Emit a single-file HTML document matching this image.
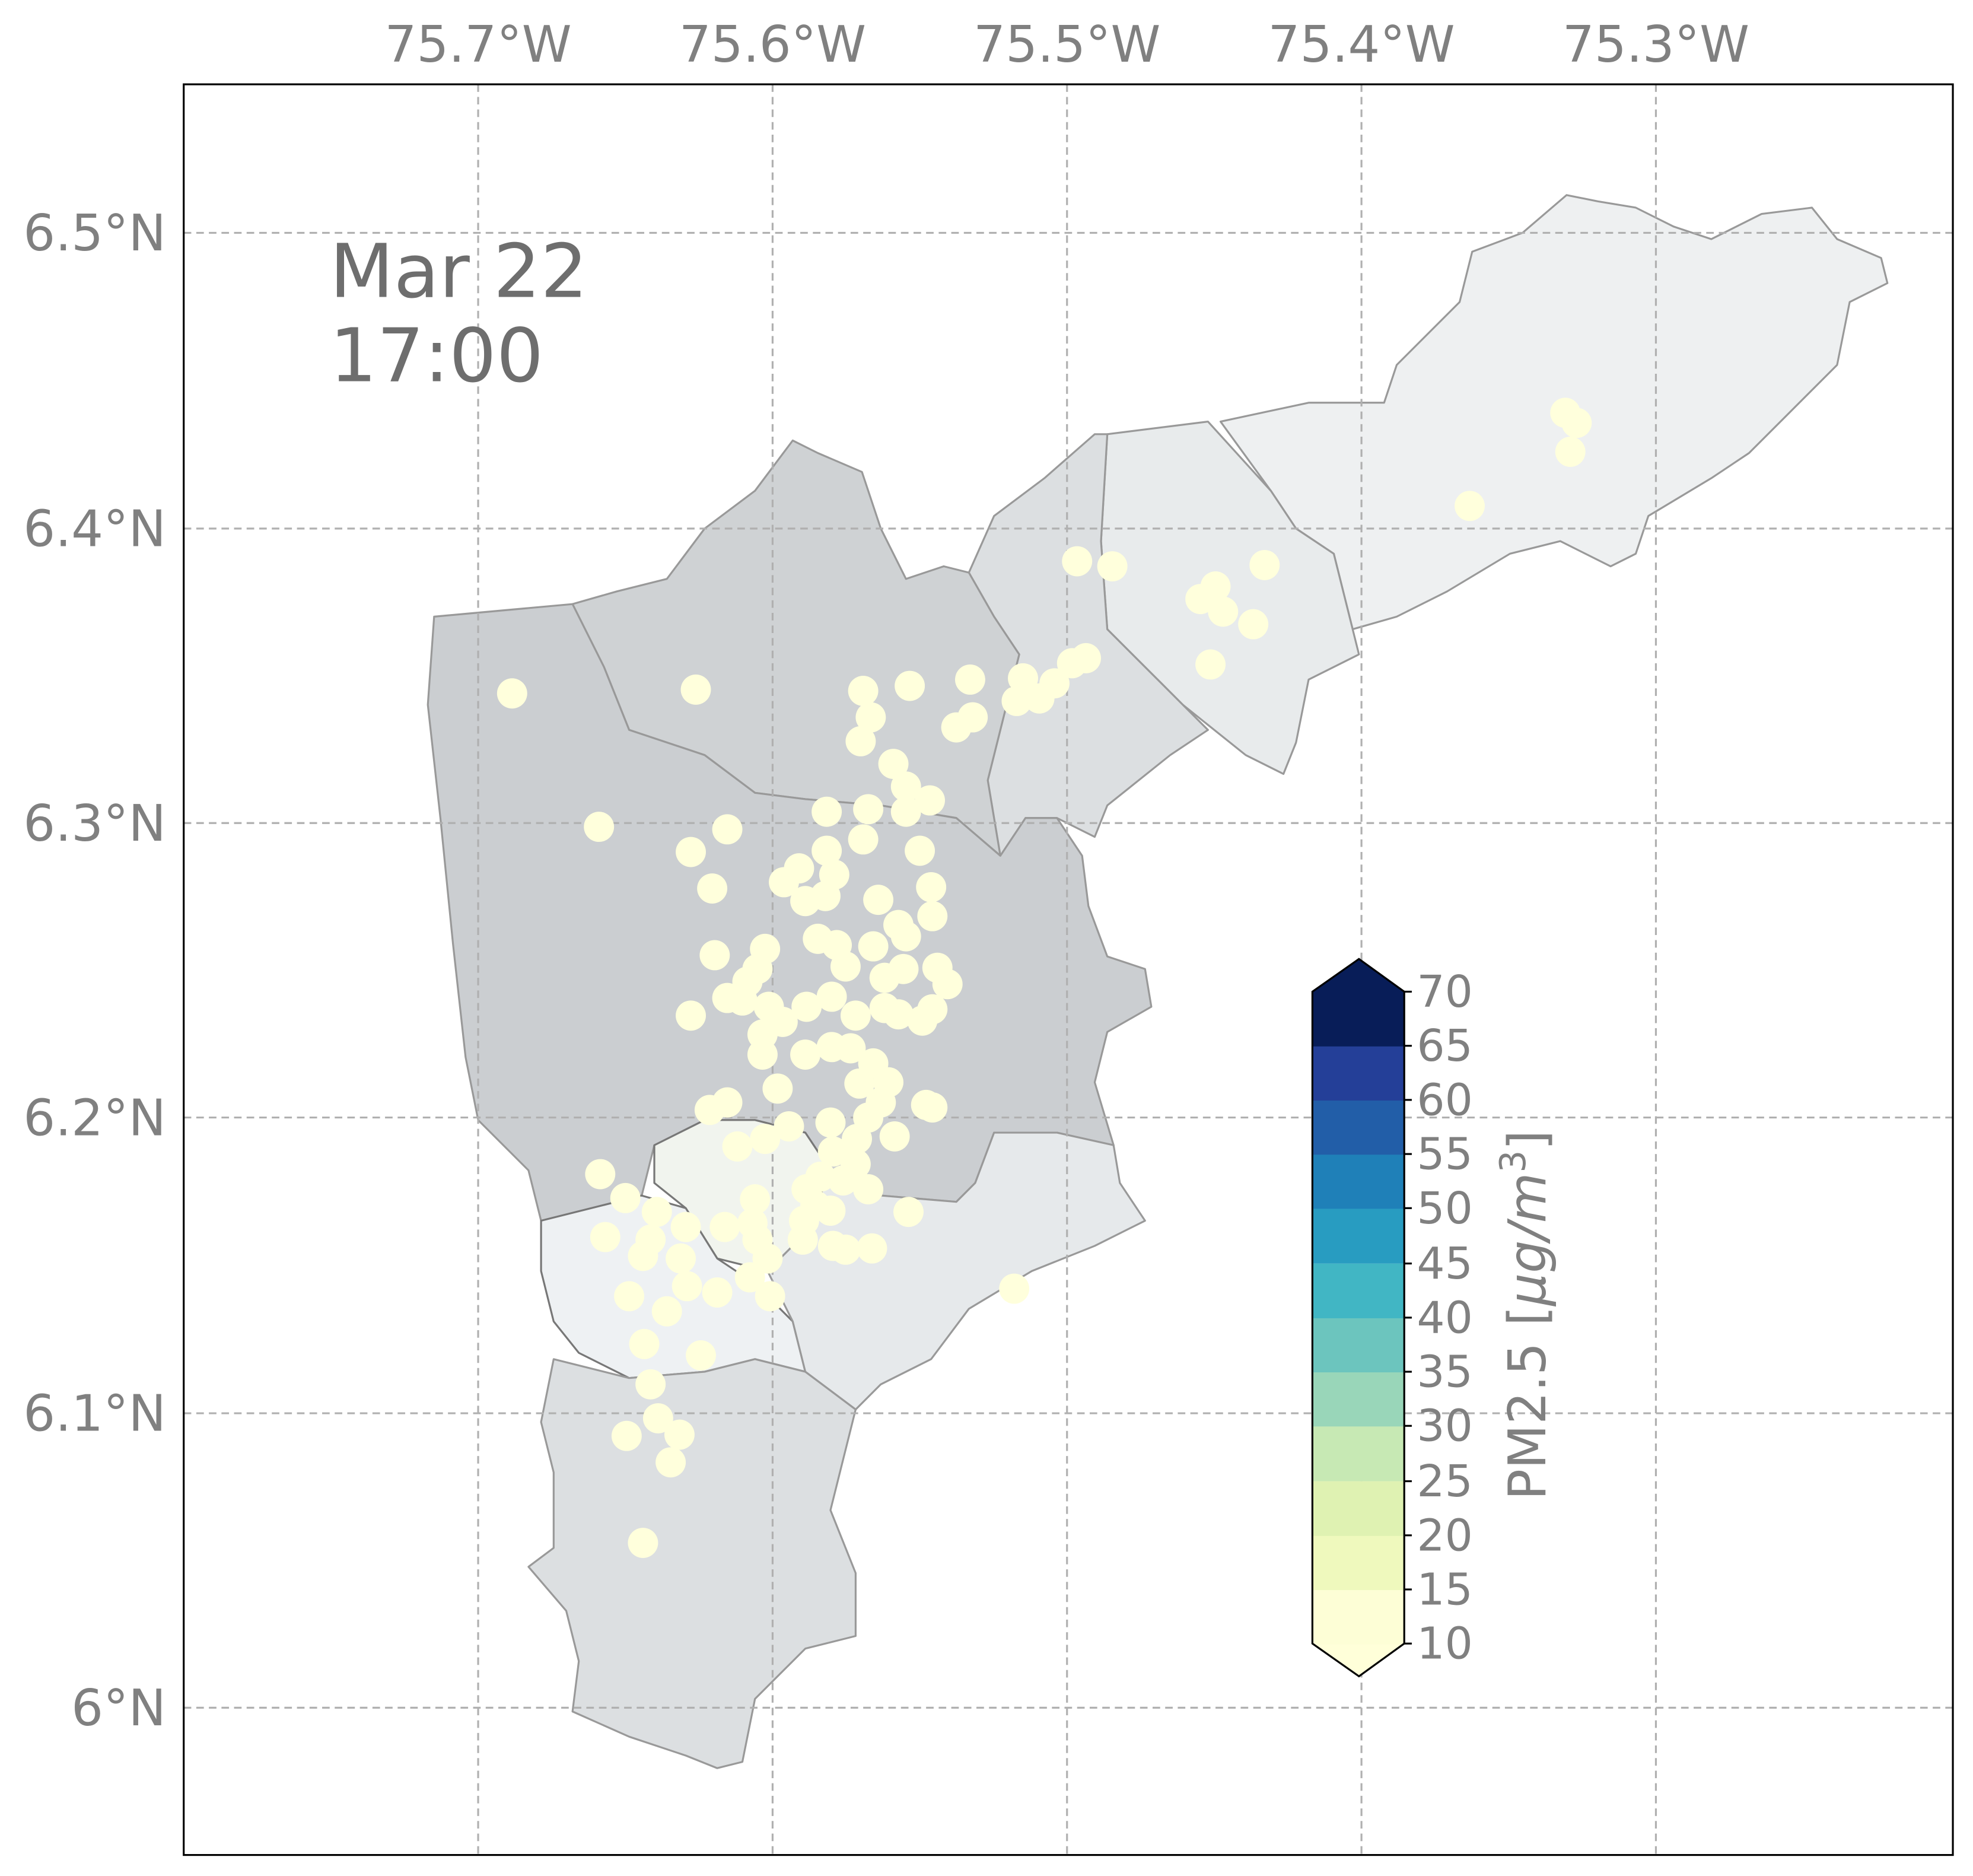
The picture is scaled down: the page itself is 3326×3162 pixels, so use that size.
<!DOCTYPE html>
<html><head><meta charset="utf-8"><style>html,body{margin:0;padding:0;background:#fff}svg{display:block}</style></head>
<body>
<svg width="3326" height="3162" viewBox="0 0 1568 1490.7" xmlns="http://www.w3.org/2000/svg" font-family="DejaVu Sans, Liberation Sans, sans-serif">
<rect width="1568" height="1491" fill="#fff"/>
<g stroke-linejoin="round" stroke-width="1.5">
<polygon fill="#eef0f1" stroke="#999" points="970,335 1040,320 1100,320 1110,290 1160,240 1170,200 1210,185 1245,155 1270,160 1300,165 1330,180 1360,190 1400,170 1440,165 1460,190 1495,205 1500,225 1470,240 1460,290 1420,330 1390,360 1360,380 1310,410 1300,440 1280,450 1240,430 1200,440 1150,470 1110,490 1075,500 1060,440 1030,420 1010,390"/>
<polygon fill="#e8ebec" stroke="#999" points="880,345 960,335 1010,390 1030,420 1060,440 1075,500 1080,520 1040,540 1030,590 1020,615 990,600 965,580 940,560 920,540 880,500 875,430"/>
<polygon fill="#dcdfe1" stroke="#999" points="770,455 790,410 830,380 870,345 880,345 875,430 880,500 920,540 960,580 930,600 880,640 870,665 840,650 815,650 795,680 785,620 800,560 810,520 790,490"/>
<polygon fill="#cfd2d4" stroke="#999" points="455,480 490,470 530,460 560,420 600,390 630,350 650,360 685,375 700,420 720,460 750,450 770,455 790,490 810,520 800,560 785,620 795,680 760,650 700,640 640,635 600,630 560,600 500,580 480,530"/>
<polygon fill="#cbced1" stroke="#999" points="345,490 400,485 455,480 480,530 500,580 560,600 600,630 640,635 700,640 760,650 795,680 815,650 840,650 860,680 865,720 880,760 910,770 915,800 880,820 870,860 885,910 840,900 790,900 775,940 760,955 700,950 660,930 640,900 600,890 560,890 520,910 510,950 430,970 420,930 380,890 370,840 360,750 350,650 340,560"/>
<polygon fill="#f1f4ee" stroke="#777" points="520,910 560,890 600,890 640,900 660,930 640,980 610,1010 570,1000 545,960 520,940"/>
<polygon fill="#eef1f3" stroke="#777" points="430,970 510,950 545,960 570,1000 600,1020 630,1050 640,1090 600,1080 560,1090 500,1095 460,1075 440,1050 430,1010"/>
<polygon fill="#e6e9eb" stroke="#999" points="640,980 660,930 700,950 760,955 775,940 790,900 840,900 885,910 890,940 910,970 870,990 820,1010 770,1040 740,1080 700,1100 680,1120 640,1090 630,1050 610,1010"/>
<polygon fill="#dcdfe1" stroke="#999" points="440,1080 500,1095 560,1090 600,1080 640,1090 680,1120 670,1160 660,1200 680,1250 680,1300 640,1310 600,1350 590,1400 570,1405 545,1395 500,1380 455,1360 460,1320 450,1280 420,1245 440,1230 440,1170 430,1130"/>
</g>
<g stroke="#b0b0b0" stroke-width="1.5" stroke-dasharray="6,4">
<line x1="380" y1="67" x2="380" y2="1474"/><line x1="614" y1="67" x2="614" y2="1474"/><line x1="848" y1="67" x2="848" y2="1474"/><line x1="1082" y1="67" x2="1082" y2="1474"/><line x1="1316" y1="67" x2="1316" y2="1474"/>
<line x1="146" y1="185" x2="1552" y2="185"/><line x1="146" y1="420" x2="1552" y2="420"/><line x1="146" y1="654" x2="1552" y2="654"/><line x1="146" y1="888" x2="1552" y2="888"/><line x1="146" y1="1123" x2="1552" y2="1123"/><line x1="146" y1="1357" x2="1552" y2="1357"/>
</g>
<g fill="#ffffdc">
<circle cx="407" cy="551" r="12"/><circle cx="553" cy="548" r="12"/><circle cx="476" cy="657" r="12"/><circle cx="549" cy="677" r="12"/><circle cx="578" cy="659" r="12"/><circle cx="566" cy="706" r="12"/><circle cx="568" cy="759" r="12"/><circle cx="549" cy="807" r="12"/>
<circle cx="686" cy="549" r="12"/><circle cx="723" cy="545" r="12"/><circle cx="692" cy="570" r="12"/><circle cx="684" cy="589" r="12"/><circle cx="771" cy="540" r="12"/><circle cx="773" cy="570" r="12"/><circle cx="760" cy="578" r="12"/><circle cx="808" cy="557" r="12"/><circle cx="813" cy="539" r="12"/><circle cx="826" cy="555" r="12"/><circle cx="838" cy="543" r="12"/><circle cx="852" cy="527" r="12"/><circle cx="863" cy="523" r="12"/><circle cx="856" cy="446" r="12"/><circle cx="884" cy="450" r="12"/>
<circle cx="954" cy="476" r="12"/><circle cx="966" cy="466" r="12"/><circle cx="972" cy="486" r="12"/><circle cx="1005" cy="449" r="12"/><circle cx="996" cy="496" r="12"/><circle cx="962" cy="528" r="12"/><circle cx="1168" cy="402" r="12"/><circle cx="1244" cy="328" r="12"/><circle cx="1253" cy="336" r="12"/><circle cx="1248" cy="359" r="12"/>
<circle cx="710" cy="607" r="12"/><circle cx="720" cy="625" r="12"/><circle cx="739" cy="636" r="12"/><circle cx="720" cy="645" r="12"/><circle cx="690" cy="643" r="12"/><circle cx="657" cy="645" r="12"/><circle cx="686" cy="667" r="12"/><circle cx="731" cy="676" r="12"/><circle cx="657" cy="676" r="12"/><circle cx="663" cy="695" r="12"/><circle cx="635" cy="690" r="12"/><circle cx="623" cy="701" r="12"/><circle cx="640" cy="716" r="12"/><circle cx="656" cy="712" r="12"/><circle cx="698" cy="715" r="12"/><circle cx="740" cy="705" r="12"/><circle cx="741" cy="728" r="12"/><circle cx="714" cy="735" r="12"/><circle cx="720" cy="744" r="12"/><circle cx="694" cy="752" r="12"/><circle cx="650" cy="746" r="12"/><circle cx="665" cy="751" r="12"/><circle cx="672" cy="768" r="12"/><circle cx="608" cy="754" r="12"/><circle cx="602" cy="770" r="12"/><circle cx="718" cy="770" r="12"/><circle cx="703" cy="777" r="12"/><circle cx="745" cy="769" r="12"/><circle cx="753" cy="782" r="12"/><circle cx="741" cy="802" r="12"/><circle cx="733" cy="811" r="12"/><circle cx="714" cy="806" r="12"/><circle cx="703" cy="801" r="12"/><circle cx="680" cy="807" r="12"/><circle cx="661" cy="792" r="12"/><circle cx="641" cy="800" r="12"/><circle cx="611" cy="800" r="12"/><circle cx="590" cy="795" r="12"/><circle cx="578" cy="793" r="12"/><circle cx="594" cy="780" r="12"/><circle cx="622" cy="812" r="12"/><circle cx="606" cy="822" r="12"/><circle cx="606" cy="838" r="12"/><circle cx="640" cy="838" r="12"/><circle cx="661" cy="832" r="12"/><circle cx="676" cy="833" r="12"/><circle cx="694" cy="845" r="12"/><circle cx="706" cy="860" r="12"/><circle cx="683" cy="861" r="12"/><circle cx="618" cy="865" r="12"/><circle cx="578" cy="876" r="12"/><circle cx="564" cy="882" r="12"/><circle cx="741" cy="880" r="12"/><circle cx="736" cy="878" r="12"/><circle cx="700" cy="876" r="12"/><circle cx="690" cy="888" r="12"/><circle cx="660" cy="892" r="12"/><circle cx="627" cy="895" r="12"/><circle cx="608" cy="905" r="12"/><circle cx="586" cy="911" r="12"/><circle cx="681" cy="905" r="12"/><circle cx="711" cy="903" r="12"/><circle cx="662" cy="915" r="12"/><circle cx="680" cy="925" r="12"/><circle cx="652" cy="935" r="12"/><circle cx="641" cy="945" r="12"/><circle cx="670" cy="938" r="12"/><circle cx="690" cy="945" r="12"/><circle cx="648" cy="958" r="12"/><circle cx="639" cy="970" r="12"/><circle cx="660" cy="962" r="12"/><circle cx="722" cy="963" r="12"/><circle cx="662" cy="990" r="12"/><circle cx="672" cy="993" r="12"/><circle cx="693" cy="992" r="12"/><circle cx="638" cy="985" r="12"/><circle cx="600" cy="953" r="12"/><circle cx="598" cy="972" r="12"/><circle cx="576" cy="975" r="12"/><circle cx="602" cy="985" r="12"/><circle cx="610" cy="1000" r="12"/><circle cx="596" cy="1015" r="12"/><circle cx="612" cy="1030" r="12"/><circle cx="570" cy="1027" r="12"/><circle cx="546" cy="1022" r="12"/><circle cx="541" cy="1000" r="12"/><circle cx="545" cy="975" r="12"/><circle cx="522" cy="963" r="12"/><circle cx="517" cy="985" r="12"/><circle cx="511" cy="998" r="12"/><circle cx="497" cy="952" r="12"/><circle cx="477" cy="933" r="12"/><circle cx="481" cy="983" r="12"/><circle cx="500" cy="1030" r="12"/><circle cx="530" cy="1042" r="12"/><circle cx="512" cy="1068" r="12"/><circle cx="557" cy="1077" r="12"/><circle cx="517" cy="1100" r="12"/><circle cx="523" cy="1127" r="12"/><circle cx="540" cy="1140" r="12"/><circle cx="498" cy="1141" r="12"/><circle cx="533" cy="1162" r="12"/><circle cx="511" cy="1226" r="12"/><circle cx="806" cy="1024" r="12"/>
</g>
<rect x="146" y="67" width="1406" height="1407" fill="none" stroke="#000" stroke-width="1.5"/>
<g fill="#808080" font-size="40" text-anchor="middle">
<text x="380" y="49">75.7°W</text><text x="614" y="49">75.6°W</text><text x="848" y="49">75.5°W</text><text x="1082" y="49">75.4°W</text><text x="1316" y="49">75.3°W</text>
</g>
<g fill="#808080" font-size="40" text-anchor="end">
<text x="132" y="199">6.5°N</text><text x="132" y="434">6.4°N</text><text x="132" y="668">6.3°N</text><text x="132" y="902">6.2°N</text><text x="132" y="1137">6.1°N</text><text x="132" y="1371">6°N</text>
</g>
<g fill="#6e6e6e" font-size="59"><text x="262" y="236">Mar 22</text><text x="262" y="303">17:00</text></g>
<g>
<polygon points="1043,1306 1116,1306 1116,1307 1080,1332 1043,1307" fill="#ffffd9"/>
<rect x="1043" y="1263" width="73" height="43.5" fill="#fdfed6"/>
<rect x="1043" y="1220" width="73" height="43.5" fill="#eff9bd"/>
<rect x="1043" y="1177" width="73" height="43.5" fill="#dff2b2"/>
<rect x="1043" y="1133" width="73" height="44" fill="#c7e9b4"/>
<rect x="1043" y="1090" width="73" height="43.5" fill="#99d6b9"/>
<rect x="1043" y="1047" width="73" height="43.5" fill="#6cc5be"/>
<rect x="1043" y="1004" width="73" height="43.5" fill="#41b6c4"/>
<rect x="1043" y="960" width="73" height="44" fill="#289cc1"/>
<rect x="1043" y="917" width="73" height="43.5" fill="#1f80b8"/>
<rect x="1043" y="874" width="73" height="43.5" fill="#225ea8"/>
<rect x="1043" y="831" width="73" height="43.5" fill="#243f98"/>
<rect x="1043" y="788" width="73" height="43.5" fill="#081d58"/>
<polygon points="1043,788 1080,762 1116,788" fill="#081d58"/>
<polygon points="1043,788 1080,762 1116,788 1116,1306 1080,1332 1043,1306" fill="none" stroke="#000" stroke-width="1.5"/>
<g stroke="#000" stroke-width="1.5">
<line x1="1116" y1="788" x2="1122" y2="788"/><line x1="1116" y1="831" x2="1122" y2="831"/><line x1="1116" y1="874" x2="1122" y2="874"/><line x1="1116" y1="917" x2="1122" y2="917"/><line x1="1116" y1="960" x2="1122" y2="960"/><line x1="1116" y1="1004" x2="1122" y2="1004"/><line x1="1116" y1="1047" x2="1122" y2="1047"/><line x1="1116" y1="1090" x2="1122" y2="1090"/><line x1="1116" y1="1133" x2="1122" y2="1133"/><line x1="1116" y1="1177" x2="1122" y2="1177"/><line x1="1116" y1="1220" x2="1122" y2="1220"/><line x1="1116" y1="1263" x2="1122" y2="1263"/><line x1="1116" y1="1306" x2="1122" y2="1306"/>
</g>
<g fill="#808080" font-size="35">
<text x="1126" y="800">70</text><text x="1126" y="843">65</text><text x="1126" y="886">60</text><text x="1126" y="929">55</text><text x="1126" y="972">50</text><text x="1126" y="1016">45</text><text x="1126" y="1059">40</text><text x="1126" y="1102">35</text><text x="1126" y="1145">30</text><text x="1126" y="1189">25</text><text x="1126" y="1232">20</text><text x="1126" y="1275">15</text><text x="1126" y="1318">10</text>
</g>
<text transform="translate(1228,1045) rotate(-90)" fill="#808080" font-size="41" text-anchor="middle">PM2.5 [<tspan font-style="italic">μg/m</tspan><tspan font-size="28" dy="-16">3</tspan><tspan dy="16">]</tspan></text>
</g>
</svg>
</body></html>
